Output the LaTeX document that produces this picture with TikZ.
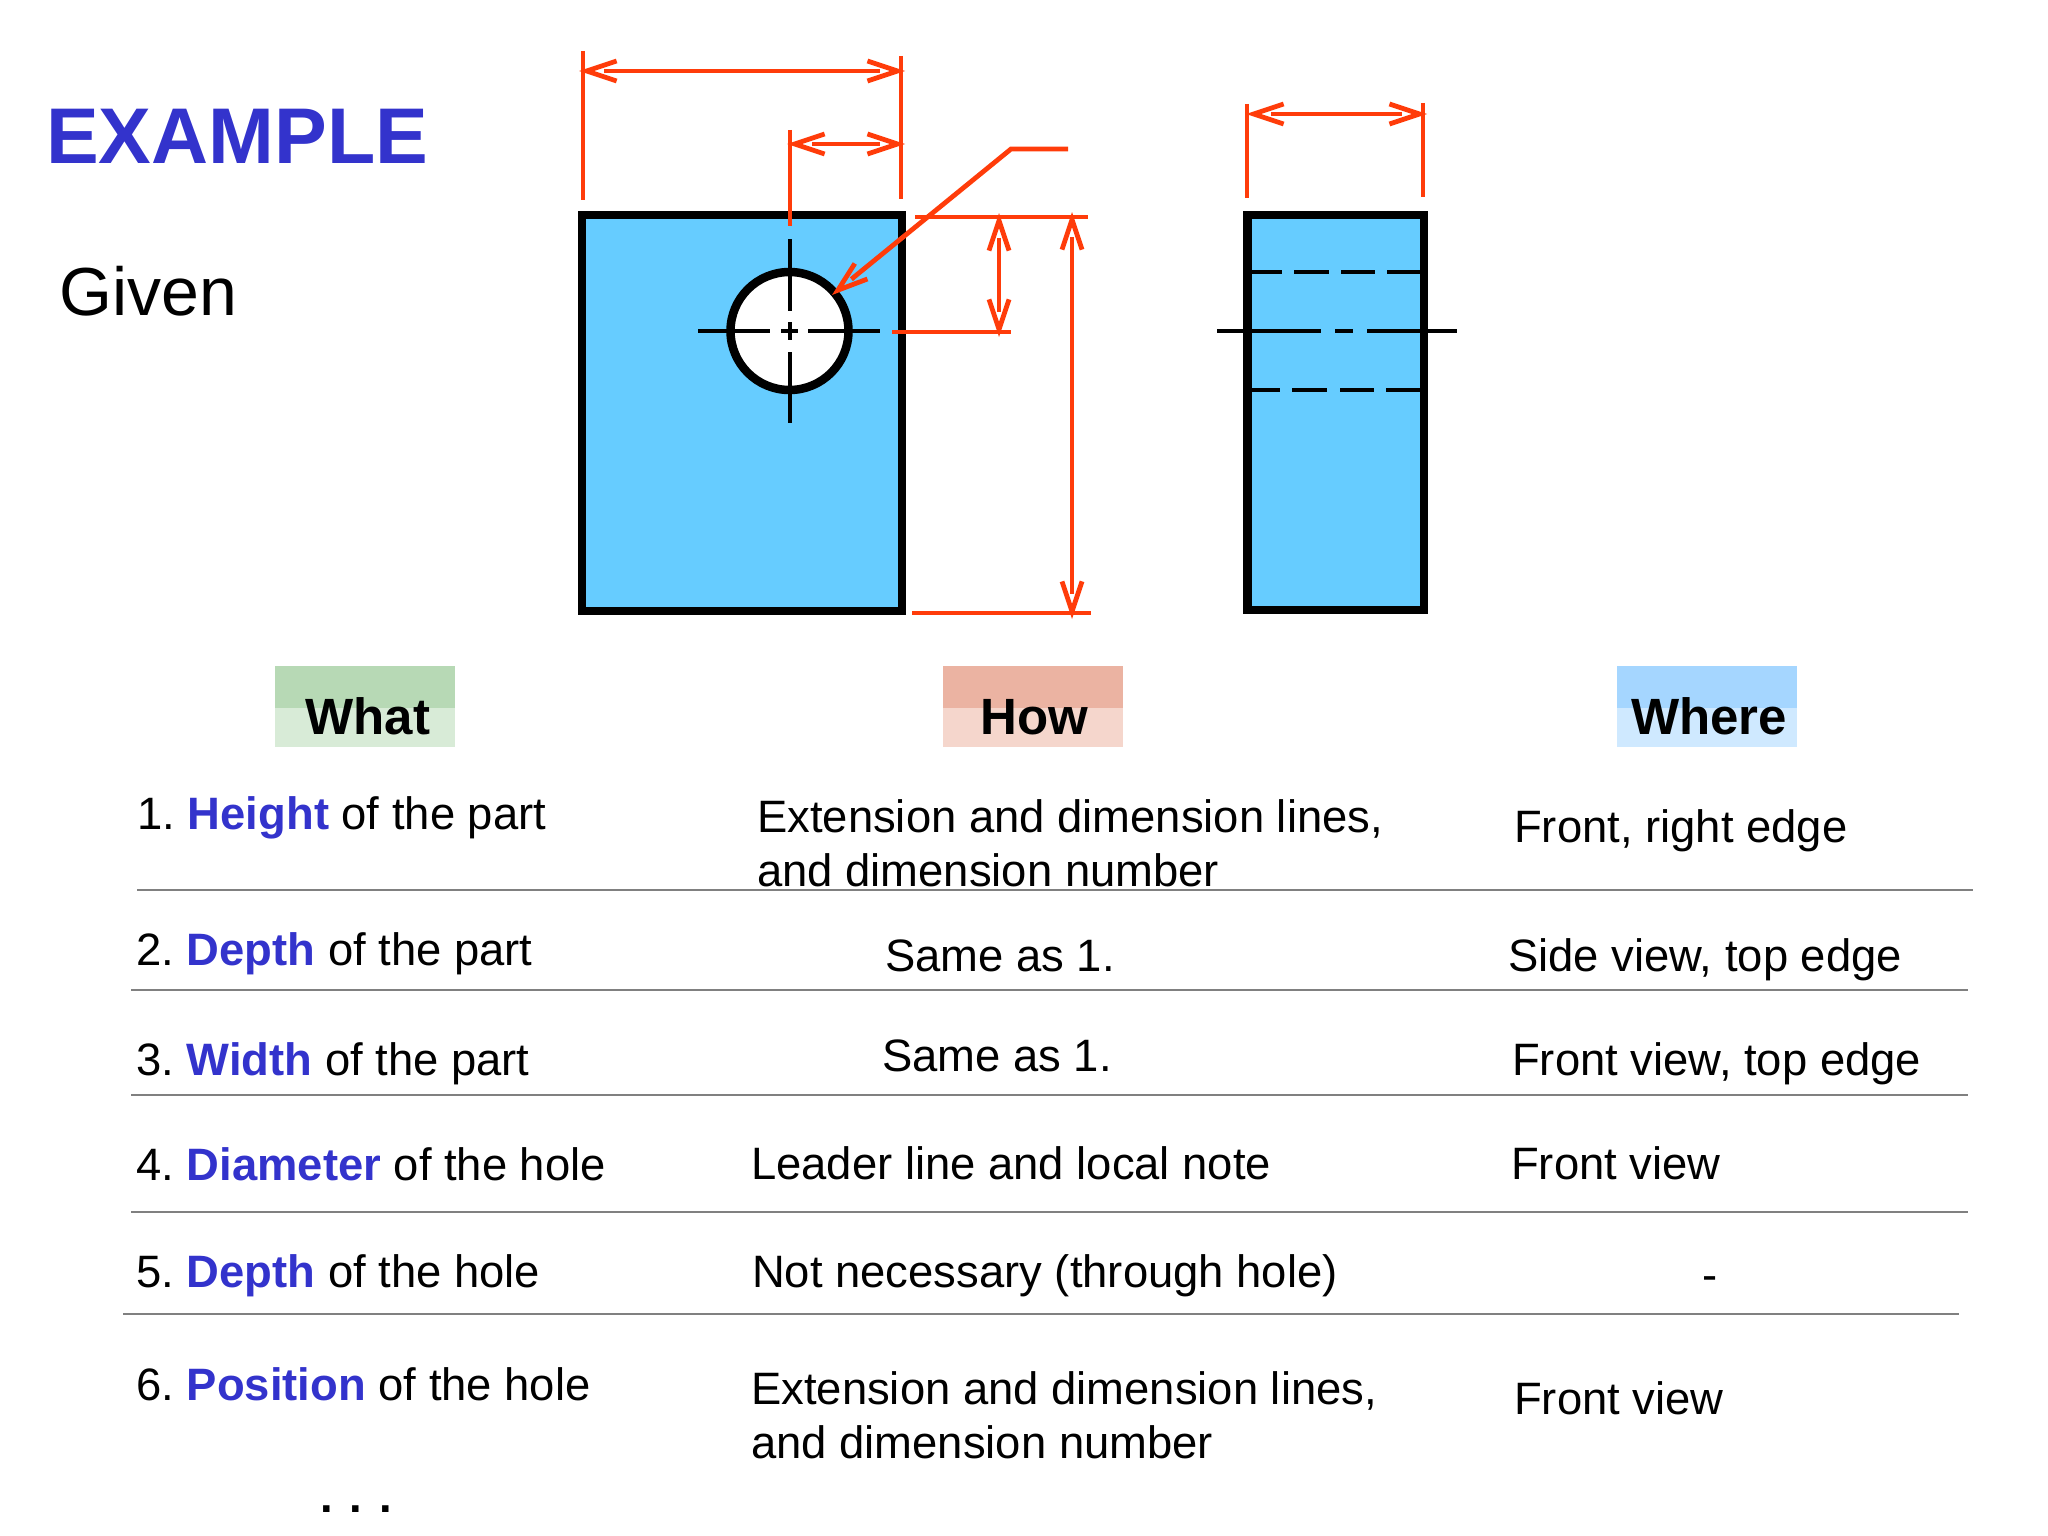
\documentclass[tikz,border=0pt]{standalone}
\usepackage{fontspec}
\setmainfont{Liberation Sans}
\usetikzlibrary{arrows.meta}

\definecolor{dimred}{HTML}{FF3C0A}
\definecolor{partblue}{HTML}{66CCFF}
\definecolor{titleblue}{HTML}{3333CC}

\newcommand{\kw}[1]{\kern-4pt\textbf{\textcolor{titleblue}{#1}}}

\tikzset{
	outline/.style={line width=8.5pt,fill=partblue,draw=black},
	cline/.style={line width=4pt,black},
	ext/.style={line width=4.8pt,dimred},
	barb/.style={arrows={#1},dash pattern=on 0pt off 5000pt,shorten >=0pt,shorten <=0pt},
	dim/.style={ext,shorten >=25pt,shorten <=25pt,
		postaction={draw,barb={Straight Barb[length=30pt,width=20pt]-Straight Barb[length=30pt,width=20pt]}}},
	lead/.style={ext,shorten >=25pt,
		postaction={draw,barb={-Straight Barb[length=30pt,width=20pt]}}},
	rowline/.style={line width=2pt,black!50},
	txt/.style={anchor=base west,inner sep=0pt,font=\fontsize{45.4}{54}\selectfont,align=left},
	head/.style={anchor=base,inner sep=0pt,font=\fontsize{51}{60}\selectfont\bfseries}
}

\begin{document}
\begin{tikzpicture}[x=1pt,y=-1pt]
\useasboundingbox (0,0) rectangle (2048,1536);

\node[anchor=base west,inner sep=0pt,text=titleblue,font=\fontsize{79}{90}\selectfont\bfseries] (title) at (46,164) {EXAMPLE};
\node[anchor=base west,inner sep=0pt,font=\fontsize{68}{80}\selectfont] (given) at (59,315) {Given};

% front view
\draw[outline] (582,215) rectangle (902,611);
\draw[outline,fill=white] (789.5,331) circle (59);
\draw[cline] (698,331) -- (770,331) (781,331) -- (798,331) (808,331) -- (880,331);
\draw[cline] (790,239) -- (790,311) (790,322) -- (790,340) (790,352) -- (790,423);

% side view
\draw[outline] (1247.5,215) rectangle (1424,610);
\draw[cline] (1217,331) -- (1321,331) (1335,331) -- (1353,331) (1367,331) -- (1457,331);
\draw[cline] (1247,272) -- (1282,272) (1294,272) -- (1329,272) (1341,272) -- (1375,272) (1387,272) -- (1424,272);
\draw[cline] (1247,390) -- (1280,390) (1292,390) -- (1327,390) (1340,390) -- (1374,390) (1386,390) -- (1424,390);

% extension lines
\coordinate (w1) at (583,51);  \coordinate (w1b) at (583,200);
\coordinate (w2) at (901,56);  \coordinate (w2b) at (901,199);
\coordinate (p1) at (790,130); \coordinate (p1b) at (790,226);
\coordinate (d1) at (1247,104); \coordinate (d1b) at (1247,198);
\coordinate (d2) at (1423,103); \coordinate (d2b) at (1423,197);
\coordinate (h1) at (915,217); \coordinate (h1b) at (1088,217);
\coordinate (h2) at (892,332); \coordinate (h2b) at (1011,332);
\coordinate (h3) at (912,613); \coordinate (h3b) at (1091,613);
\draw[ext] (w1) -- (w1b) (w2) -- (w2b) (p1) -- (p1b) (d1) -- (d1b) (d2) -- (d2b);
\draw[ext] (h1) -- (h1b) (h2) -- (h2b) (h3) -- (h3b);

% dimension lines
\coordinate (wa) at (579,71);  \coordinate (wb) at (905,71);
\coordinate (pa) at (787,144); \coordinate (pb) at (905,144);
\coordinate (da) at (1246,114); \coordinate (db) at (1427,114);
\coordinate (ya) at (999,213); \coordinate (yb) at (999,337);
\coordinate (ha) at (1072,212); \coordinate (hb) at (1072,619);
\draw[dim] (wa) -- (wb);
\draw[dim] (pa) -- (pb);
\draw[dim] (da) -- (db);
\draw[dim] (ya) -- (yb);
\draw[dim] (ha) -- (hb);

% leader
\coordinate (la) at (1068,149);
\coordinate (lb) at (1011,149);
\coordinate (lc) at (832,295);
\draw[lead] (la) -- (lb) -- (lc);

% headers
\fill[fill={rgb,255:red,183;green,217;blue,181}] (275,666) rectangle (455,708);
\fill[fill={rgb,255:red,216;green,235;blue,215}] (275,708) rectangle (455,747);
\fill[fill={rgb,255:red,235;green,179;blue,162}] (943,666) rectangle (1123,708);
\fill[fill={rgb,255:red,245;green,214;blue,204}] (943,708) rectangle (1123,747);
\fill[fill={rgb,255:red,165;green,214;blue,255}] (1617,666) rectangle (1797,708);
\fill[fill={rgb,255:red,207;green,233;blue,255}] (1617,708) rectangle (1797,747);
\node[head] (what) at (368,734) {What};
\node[head] (how) at (1034,734) {How};
\node[head] (where) at (1709,734) {Where};

% rows
\node[txt] (r1a) at (137,829) {1. \kw{Height} of the part};
\node[txt] (r1b) at (757,886) {Extension and dimension lines,\\and dimension number};
\node[txt] (r1c) at (1514,842) {Front, right edge};
\node[txt] (r2a) at (136,965) {2. \kw{Depth} of the part};
\node[txt] (r2b) at (885,971) {Same as 1.};
\node[txt] (r2c) at (1508,971) {Side view, top edge};
\node[txt] (r3a) at (136,1075) {3. \kw{Width} of the part};
\node[txt] (r3b) at (882,1071) {Same as 1.};
\node[txt] (r3c) at (1512,1075) {Front view, top edge};
\node[txt] (r4a) at (136,1180) {4. \kw{Diameter} of the hole};
\node[txt] (r4b) at (751,1179) {Leader line and local note};
\node[txt] (r4c) at (1511,1179) {Front view};
\node[txt] (r5a) at (136,1287) {5. \kw{Depth} of the hole};
\node[txt] (r5b) at (752,1287) {Not necessary (through hole)};
\node[txt] (r5c) at (1702,1290) {-};
\node[txt] (r6a) at (136,1400) {6. \kw{Position} of the hole};
\node[txt] (r6b) at (751,1458) {Extension and dimension lines,\\and dimension number};
\node[txt] (r6c) at (1514,1414) {Front view};
\node[txt,font=\fontsize{45.4}{54}\selectfont\bfseries] (more) at (320,1512) {. . .};

% row rules
\coordinate (l1a) at (137,890);  \coordinate (l1b) at (1973,890);
\coordinate (l2a) at (131,990);  \coordinate (l2b) at (1968,990);
\coordinate (l3a) at (131,1095); \coordinate (l3b) at (1968,1095);
\coordinate (l4a) at (131,1212); \coordinate (l4b) at (1968,1212);
\coordinate (l5a) at (123,1314); \coordinate (l5b) at (1959,1314);
\foreach \i in {1,...,5}
	\draw[rowline] (l\i a) -- (l\i b);
\end{tikzpicture}
\end{document}
